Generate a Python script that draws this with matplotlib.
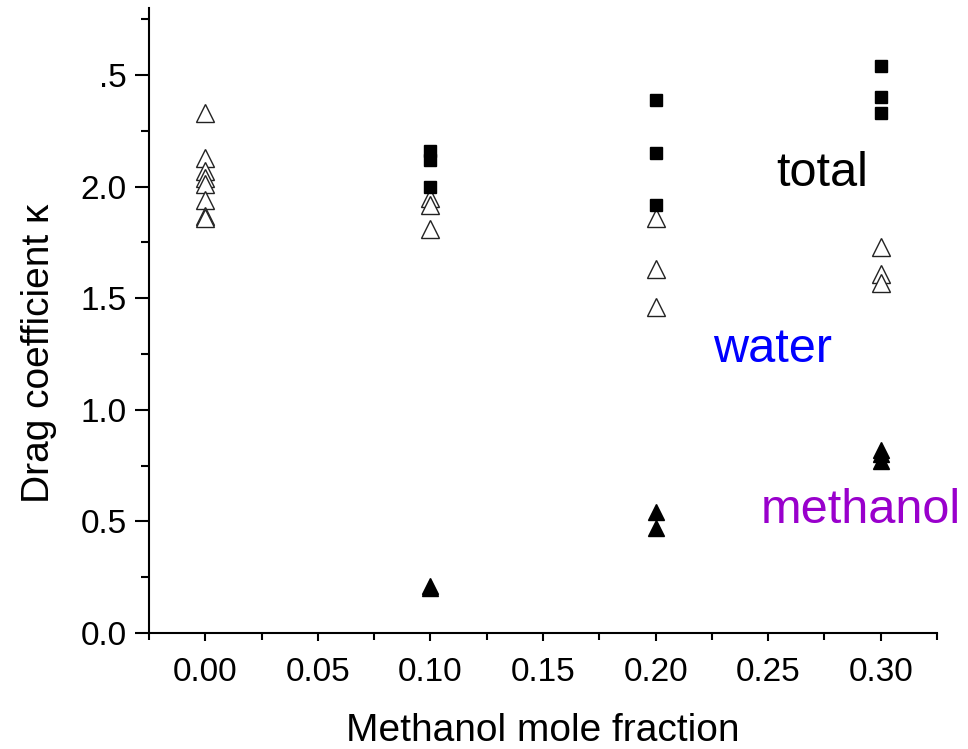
import numpy as np
import matplotlib
matplotlib.use("Agg")
import matplotlib.pyplot as plt

plt.rcParams['font.family'] = ['Liberation Sans', 'DejaVu Sans']

# total drag coefficient (filled squares)
x_total = [0.10, 0.10, 0.10,
           0.20, 0.20, 0.20,
           0.30, 0.30, 0.30]
k_total = [2.16, 2.12, 2.00,
           2.39, 2.15, 1.92,
           2.54, 2.40, 2.33]

# water (open triangles)
x_water = [0.00, 0.00, 0.00, 0.00, 0.00, 0.00, 0.00, 0.00,
           0.10, 0.10, 0.10,
           0.20, 0.20, 0.20,
           0.30, 0.30, 0.30]
k_water = [2.33, 2.13, 2.07, 2.04, 2.01, 1.94, 1.87, 1.86,
           1.95, 1.92, 1.81,
           1.86, 1.63, 1.46,
           1.73, 1.61, 1.57]

# methanol (filled triangles)
x_meth = [0.10, 0.10,
          0.20, 0.20,
          0.30, 0.30, 0.30]
k_meth = [0.21, 0.20,
          0.54, 0.47,
          0.82, 0.80, 0.77]

x_ticks = [0.00, 0.05, 0.10, 0.15, 0.20, 0.25, 0.30]
x_ticklabels = ['0.00', '0.05', '0.10', '0.15', '0.20', '0.25', '0.30']
y_ticks = [0.0, 0.5, 1.0, 1.5, 2.0, 2.5]
y_ticklabels = ['0.0', '0.5', '1.0', '1.5', '2.0', '.5']

fig = plt.figure(figsize=(9.68, 7.49), dpi=100)
ax = fig.add_axes([0.154, 0.155, 0.814, 0.834])

ax.plot(x_water, k_water, linestyle='none', marker='^', markersize=13,
        markerfacecolor='white', markeredgecolor='#222222', markeredgewidth=1.0)
ax.plot(x_total, k_total, linestyle='none', marker='s', markersize=8.5,
        color='black')
ax.plot(x_meth, k_meth, linestyle='none', marker='^', markersize=11,
        color='black')

ax.set_xlim(-0.025, 0.325)
ax.set_ylim(0.0, 2.8)
ax.set_xticks(x_ticks)
ax.set_xticklabels(x_ticklabels)
ax.set_xticks(np.arange(-0.025, 0.33, 0.025), minor=True)
ax.set_yticks(y_ticks)
ax.set_yticklabels(y_ticklabels)
ax.set_yticks(np.arange(0.25, 2.8, 0.5), minor=True)

for s in ['top', 'right']:
    ax.spines[s].set_visible(False)
for s in ['left', 'bottom']:
    ax.spines[s].set_linewidth(1.5)

ax.tick_params(axis='y', which='major', direction='out', length=10, width=1.5,
               labelsize=24, pad=6)
ax.tick_params(axis='y', which='minor', direction='out', length=6, width=1.5)
ax.tick_params(axis='x', which='major', direction='out', length=6, width=1.5,
               labelsize=24, pad=11)
ax.tick_params(axis='x', which='minor', direction='out', length=5, width=1.5)

ax.set_xlabel('Methanol mole fraction', fontsize=28)
ax.set_ylabel('Drag coefficient κ', fontsize=28)
ax.xaxis.set_label_coords(0.5, -0.128)
ax.yaxis.set_label_coords(-0.117, 0.447)

ax.text(0.2742, 2.06, 'total', fontsize=35, color='black', ha='center', va='center')
ax.text(0.2520, 1.27, 'water', fontsize=35, color='#0000ff', ha='center', va='center')
ax.text(0.2911, 0.55, 'methanol', fontsize=35, color='#9900cc', ha='center', va='center')

plt.savefig('out.png', dpi=100)
